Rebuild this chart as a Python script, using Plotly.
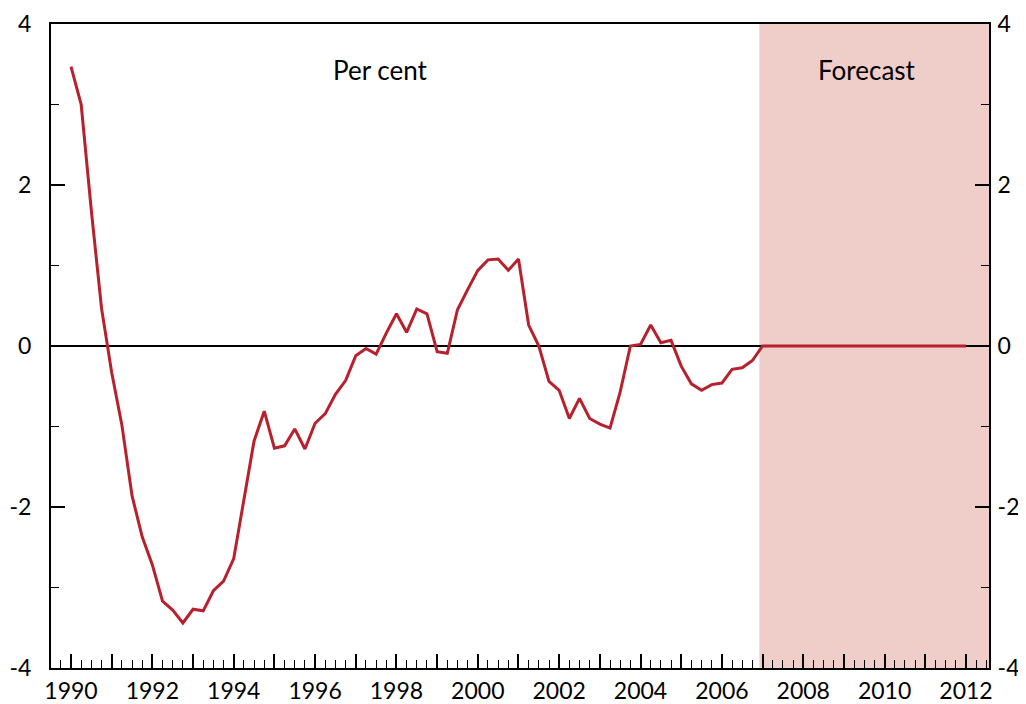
import plotly.graph_objects as go

# Quarterly data, 1990 Q1 .. 2012 Q1 (per cent)
start_year = 1990
values = [
    3.47, 3.00, 1.68, 0.47,
    -0.33, -0.98, -1.86, -2.37,
    -2.72, -3.17, -3.28, -3.44,
    -3.27, -3.29, -3.04, -2.92,
    -2.64, -1.91, -1.18, -0.81,
    -1.27, -1.24, -1.03, -1.28,
    -0.96, -0.84, -0.60, -0.43,
    -0.12, -0.03, -0.10, 0.16,
    0.40, 0.17, 0.46, 0.40,
    -0.07, -0.09, 0.45, 0.70,
    0.94, 1.07, 1.08, 0.94,
    1.08, 0.26, 0.00, -0.44,
    -0.55, -0.90, -0.65, -0.90,
    -0.97, -1.02, -0.57, 0.00,
    0.02, 0.26, 0.04, 0.07,
    -0.25, -0.47, -0.55, -0.48,
    -0.46, -0.29, -0.27, -0.18,
    0.00, 0.00, 0.00, 0.00,
    0.00, 0.00, 0.00, 0.00,
    0.00, 0.00, 0.00, 0.00,
    0.00, 0.00, 0.00, 0.00,
    0.00, 0.00, 0.00, 0.00,
    0.00,
]
quarters = [start_year + i * 0.25 for i in range(len(values))]

forecast_start = 2006.92
year_ticks = list(range(1990, 2013))
year_labels = [str(y) if y % 2 == 0 else "" for y in year_ticks]
y_ticks = [-4, -2, 0, 2, 4]
y_labels = ["-4", "-2", "0", "2", "4"]

FONT = "Lato"
RED = "#B6212D"
SHADE = "#EFCDC9"

fig = go.Figure()
fig.add_trace(go.Scatter(x=quarters, y=values, mode="lines",
                         line=dict(color=RED, width=3), showlegend=False,
                         hoverinfo="skip"))
fig.add_trace(go.Scatter(x=quarters, y=values, mode="lines", yaxis="y2",
                         line=dict(color="rgba(0,0,0,0)", width=0), showlegend=False,
                         hoverinfo="skip"))

fig.add_shape(type="rect", xref="x", yref="paper", x0=forecast_start, x1=2012.566,
              y0=0, y1=1, fillcolor=SHADE, line=dict(width=0), layer="below")

fig.add_annotation(x=1997.6, y=3.43, text="Per cent", showarrow=False,
                   font=dict(family=FONT, size=26, color="black"))
fig.add_annotation(x=2009.57, y=3.43, text="Forecast", showarrow=False,
                   font=dict(family=FONT, size=26, color="black"))

axis_font = dict(family=FONT, size=23, color="black")

fig.update_layout(
    width=1018, height=696,
    margin=dict(l=43, r=37, t=16, b=36, pad=0),
    paper_bgcolor="white", plot_bgcolor="white",
    xaxis=dict(range=[1989.508, 2012.566], tickvals=year_ticks, ticktext=year_labels,
               ticks="inside", ticklen=14, tickwidth=1.5, tickcolor="black",
               showline=True, linecolor="black", linewidth=2, mirror=True,
               showgrid=False, zeroline=False, tickfont=axis_font, automargin=False,
               minor=dict(dtick=0.25, tick0=1990, ticks="inside", ticklen=8,
                          tickwidth=1.2, tickcolor="black", showgrid=False),
               ticklabelstandoff=1),
    yaxis=dict(range=[-4, 4], tickvals=y_ticks, ticktext=y_labels,
               ticks="inside", ticklen=14, tickwidth=1.5, tickcolor="black",
               showline=True, linecolor="black", linewidth=2, automargin=False,
               showgrid=False, zeroline=True, zerolinecolor="black", zerolinewidth=1.6,
               tickfont=axis_font,
               minor=dict(dtick=1, tick0=0, ticks="inside", ticklen=8,
                          tickwidth=1.2, tickcolor="black", showgrid=False),
               ticklabelstandoff=13),
    yaxis2=dict(range=[-4, 4], tickvals=y_ticks, ticktext=y_labels, overlaying="y",
                side="right", ticks="inside", ticklen=14, tickwidth=1.5, tickcolor="black",
                showline=True, linecolor="black", linewidth=2, automargin=False,
                showgrid=False, zeroline=False, tickfont=axis_font,
                minor=dict(dtick=1, tick0=0, ticks="inside", ticklen=8,
                           tickwidth=1.2, tickcolor="black", showgrid=False),
                ticklabelstandoff=2),
)

fig.write_html("out.html")
